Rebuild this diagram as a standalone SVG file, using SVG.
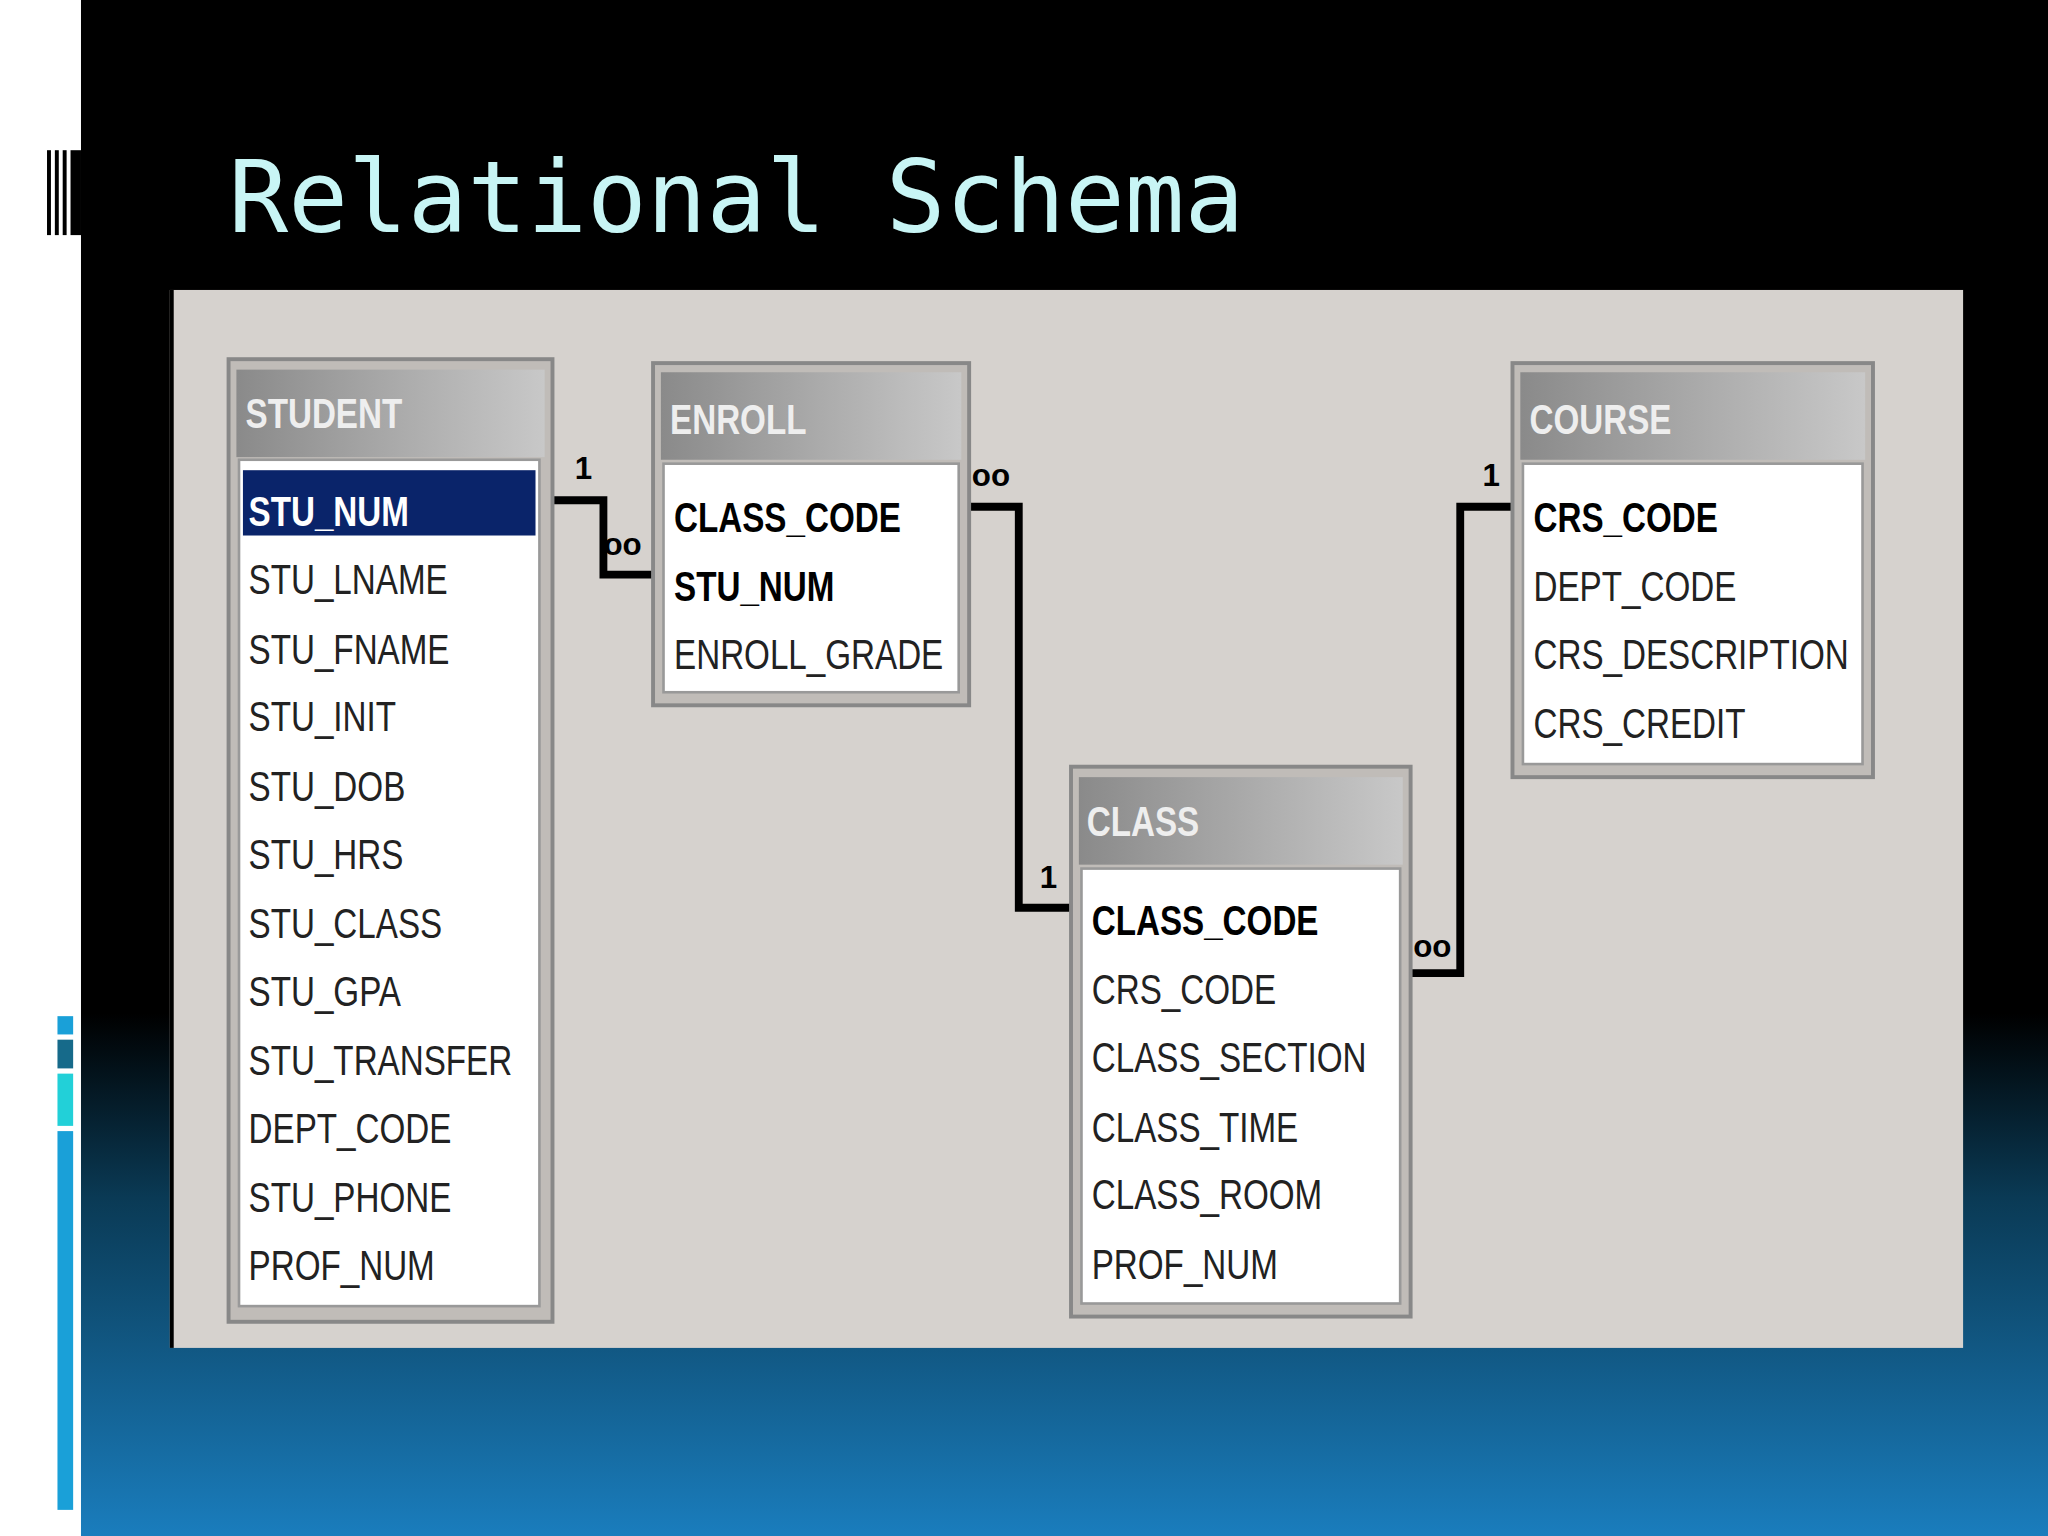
<svg xmlns="http://www.w3.org/2000/svg" width="2048" height="1536" viewBox="0 0 2048 1536">
<defs>
<linearGradient id="bg" x1="0" y1="0" x2="0" y2="1"><stop offset="0" stop-color="#000"/><stop offset="0.66" stop-color="#000"/><stop offset="0.78" stop-color="#0a3a55"/><stop offset="1" stop-color="#1a7dbd"/></linearGradient>
<linearGradient id="hd" x1="0" y1="0" x2="1" y2="0"><stop offset="0" stop-color="#8a8a8a"/><stop offset="1" stop-color="#c8c8c8"/></linearGradient>
<style>
.t{font-family:"Liberation Sans",Arial,sans-serif;font-size:33px;fill:#222}
.b{font-weight:bold;fill:#000}
.h{font-family:"Liberation Sans",Arial,sans-serif;font-size:33px;fill:#eee;font-weight:bold}
.frame{fill:#c0bcb8;stroke:#888;stroke-width:3}
.body{fill:#fff;stroke:#999;stroke-width:2}
.c{fill:none;stroke:#000;stroke-width:6}
.lab{font-family:"Liberation Sans",Arial,sans-serif;font-size:24px;font-weight:bold;fill:#000}
</style>
</defs>
<g transform="scale(1.30612)">
<rect x="0" y="0" width="1568" height="1176" fill="url(#bg)"/>
<rect x="0" y="0" width="62" height="1176" fill="#fff"/>
<g fill="#000"><rect x="36" y="115" width="3" height="65"/><rect x="42" y="115" width="3" height="65"/><rect x="48" y="115" width="3" height="65"/><rect x="54" y="115" width="8" height="65"/></g>
<rect x="44" y="778" width="12" height="14" fill="#1aa0d8"/><rect x="44" y="796" width="12" height="22" fill="#166a8a"/><rect x="44" y="822" width="12" height="40" fill="#22d0d8"/><rect x="44" y="866" width="12" height="290" fill="#1aa0d8"/>
<text x="175" y="178" font-family="DejaVu Sans Mono,monospace" font-size="76" fill="#c8f5f5">Relational Schema</text>
<rect x="130" y="222" width="1373" height="810" fill="#d6d2ce"/>
<rect x="130" y="222" width="3" height="810" fill="#000"/>
<g id="connectors">
<polyline class="c" points="423,383 462,383 462,440 500,440"/>
<polyline class="c" points="742,388 780,388 780,695 820,695"/>
<polyline class="c" points="1080,745 1118,745 1118,388 1158,388"/>
<text class="lab" x="440" y="367">1</text><text class="lab" x="462" y="425">oo</text>
<text class="lab" x="744" y="372">oo</text><text class="lab" x="796" y="680">1</text>
<text class="lab" x="1082" y="733">oo</text><text class="lab" x="1135" y="372">1</text>
</g>
<g id="student">
<rect class="frame" x="175" y="275" width="248" height="737"/>
<rect x="181" y="283" width="236" height="67" fill="url(#hd)"/>
<rect class="body" x="183" y="352" width="230" height="648"/>
<rect x="186" y="360" width="224" height="50" fill="#0a246a"/>
<g transform="translate(188,0) scale(0.77,1)">
<text class="h" x="0" y="328">STUDENT</text>
<text class="t" x="3" y="403" style="fill:#fff;font-weight:bold">STU_NUM</text>
<text class="t" x="3" y="455">STU_LNAME</text>
<text class="t" x="3" y="508">STU_FNAME</text>
<text class="t" x="3" y="560">STU_INIT</text>
<text class="t" x="3" y="613">STU_DOB</text>
<text class="t" x="3" y="665">STU_HRS</text>
<text class="t" x="3" y="718">STU_CLASS</text>
<text class="t" x="3" y="770">STU_GPA</text>
<text class="t" x="3" y="823">STU_TRANSFER</text>
<text class="t" x="3" y="875">DEPT_CODE</text>
<text class="t" x="3" y="928">STU_PHONE</text>
<text class="t" x="3" y="980">PROF_NUM</text>
</g>
</g>
<g id="enroll">
<rect class="frame" x="500" y="278" width="242" height="262"/>
<rect x="506" y="285" width="230" height="67" fill="url(#hd)"/>
<rect class="body" x="508" y="355" width="226" height="175"/>
<g transform="translate(513,0) scale(0.77,1)">
<text class="h" x="0" y="332">ENROLL</text>
<text class="t b" x="4" y="407">CLASS_CODE</text>
<text class="t b" x="4" y="460">STU_NUM</text>
<text class="t" x="4" y="512">ENROLL_GRADE</text>
</g>
</g>
<g id="course">
<rect class="frame" x="1158" y="278" width="276" height="317"/>
<rect x="1164" y="285" width="264" height="67" fill="url(#hd)"/>
<rect class="body" x="1166" y="355" width="260" height="230"/>
<g transform="translate(1171,0) scale(0.77,1)">
<text class="h" x="0" y="332">COURSE</text>
<text class="t b" x="4" y="407">CRS_CODE</text>
<text class="t" x="4" y="460">DEPT_CODE</text>
<text class="t" x="4" y="512">CRS_DESCRIPTION</text>
<text class="t" x="4" y="565">CRS_CREDIT</text>
</g>
</g>
<g id="class">
<rect class="frame" x="820" y="587" width="260" height="421"/>
<rect x="826" y="595" width="248" height="67" fill="url(#hd)"/>
<rect class="body" x="828" y="665" width="244" height="333"/>
<g transform="translate(832,0) scale(0.77,1)">
<text class="h" x="0" y="640">CLASS</text>
<text class="t b" x="5" y="716">CLASS_CODE</text>
<text class="t" x="5" y="769">CRS_CODE</text>
<text class="t" x="5" y="821">CLASS_SECTION</text>
<text class="t" x="5" y="874">CLASS_TIME</text>
<text class="t" x="5" y="926">CLASS_ROOM</text>
<text class="t" x="5" y="979">PROF_NUM</text>
</g>
</g>
</g>
</svg>
